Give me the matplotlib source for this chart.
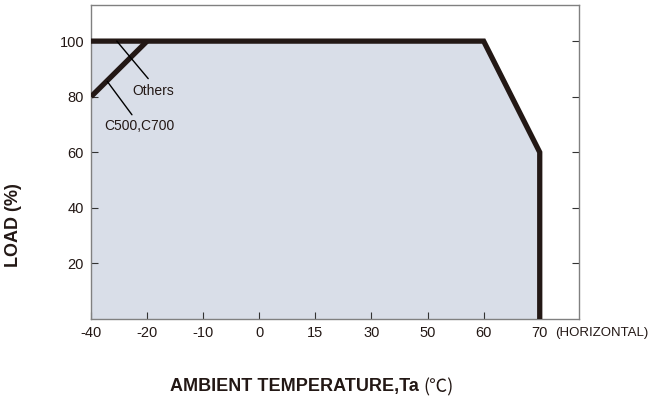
import matplotlib
matplotlib.use("Agg")
import matplotlib.pyplot as plt

# ---- data ----
temp_ticks = [-40, -20, -10, 0, 15, 30, 50, 60, 70]
load_ticks = [20, 40, 60, 80, 100]
others_temp = [-40, 60, 70, 70]
others_load = [100, 100, 60, 0]
c500_temp = [-40, -20]
c500_load = [80, 100]

plt.rcParams['font.family'] = ['Liberation Sans', 'DejaVu Sans']

LINE_C = '#231815'
FILL_C = '#d9dee8'
SPINE_C = '#808080'
TEXT_C = '#231815'

def pos(t):
    return temp_ticks.index(t)

fig = plt.figure(figsize=(6.53, 4.03), dpi=100)
ax = fig.add_axes([91/653, 1-319/403, (579-91)/653, (319-5)/403])

ox = [pos(t) for t in others_temp]
cx = [pos(t) for t in c500_temp]

ax.fill_between(ox, others_load, 0, color=FILL_C, lw=0, zorder=1)
ax.plot(ox, others_load, color=LINE_C, lw=3.8, solid_joinstyle='miter',
        solid_capstyle='butt', zorder=3)
ax.plot(cx, c500_load, color=LINE_C, lw=3.8, solid_capstyle='butt', zorder=3)

ax.set_xlim(0, 8.70)
ax.set_ylim(0, 113)
ax.set_xticks(range(len(temp_ticks)))
ax.set_xticklabels([str(t) for t in temp_ticks])
ax.set_yticks(load_ticks)
ax.set_yticklabels([str(v) for v in load_ticks])
ax.tick_params(axis='both', direction='in', length=5, width=0.8, color='#333333',
               labelsize=10.5, labelcolor=TEXT_C)
ax.tick_params(axis='x', pad=5)
ax.tick_params(axis='y', pad=5, right=True)
for s in ax.spines.values():
    s.set_color(SPINE_C)
    s.set_linewidth(1.0)

# annotations
ax.annotate('', xy=(0.46, 100), xytext=(1.02, 86.5),
            arrowprops=dict(arrowstyle='-', color='black', lw=1.0,
                            shrinkA=0, shrinkB=0), zorder=4)
ax.text(1.11, 82.0, 'Others', ha='center', va='center', fontsize=10, color=TEXT_C)
ax.annotate('', xy=(0.29, 85.5), xytext=(0.73, 73.5),
            arrowprops=dict(arrowstyle='-', color='black', lw=1.0,
                            shrinkA=0, shrinkB=0), zorder=4)
ax.text(0.86, 69.5, 'C500,C700', ha='center', va='center', fontsize=10, color=TEXT_C)

fig.text(555/653, 1-333/403, '(HORIZONTAL)', ha='left', va='center',
         fontsize=9.5, color=TEXT_C)

fig.text(14/653, 1-225/403, 'LOAD (%)', rotation=90, ha='center', va='center',
         fontsize=13, fontweight='bold', color=TEXT_C)
fig.text(419/653, 1-387/403, 'AMBIENT TEMPERATURE,Ta', ha='right', va='center',
         fontsize=13, fontweight='bold', color=TEXT_C)
fig.text(423/653, 1-387/403, '(℃)', ha='left', va='center',
         fontsize=13, color=TEXT_C, family=['Noto Sans CJK SC', 'DejaVu Sans'])

fig.savefig('out.png', dpi=100)
